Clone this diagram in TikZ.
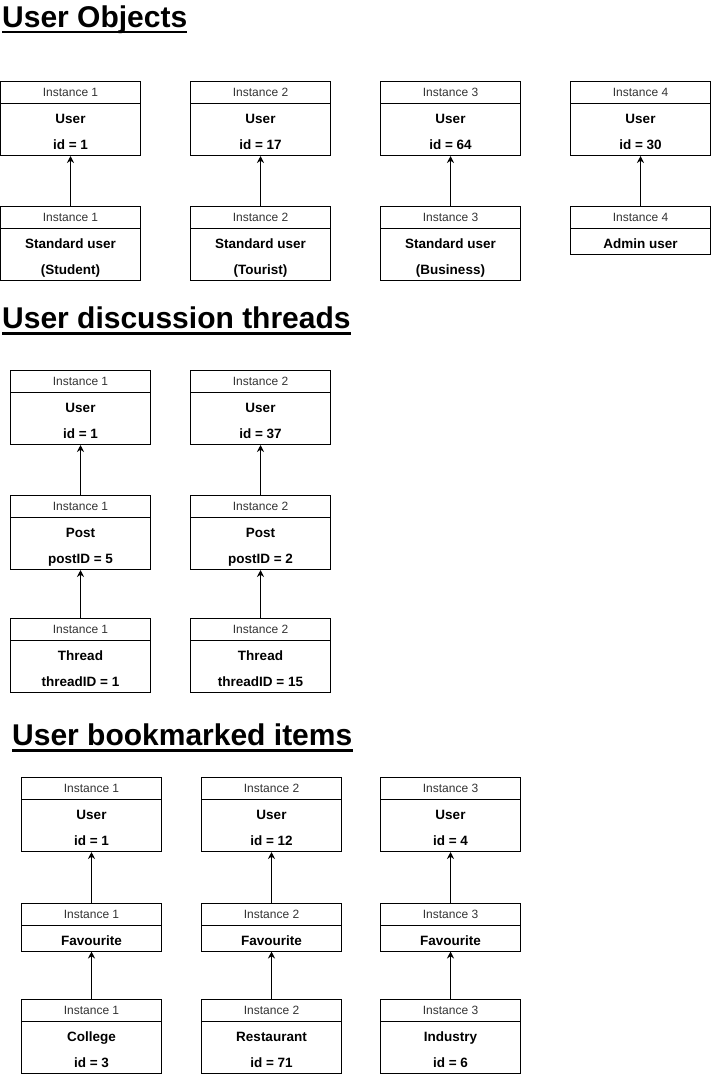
\documentclass[tikz,border=0pt]{standalone}
\usepackage{fontspec}
\setmainfont{Liberation Sans}
\usetikzlibrary{arrows.meta}
\definecolor{hdrtext}{HTML}{333333}
\tikzset{
  hdr/.style={draw=black, line width=1pt, minimum width=140pt, minimum height=22pt, inner sep=0pt,
    anchor=north west, text=hdrtext, font=\fontsize{12}{14}\selectfont},
  bodybox/.style={draw=black, line width=1pt, minimum width=140pt, inner sep=0pt,
    anchor=north west, align=center, font=\bfseries\fontsize{13.5}{26}\selectfont},
  ttl/.style={anchor=base west, inner sep=0pt, font=\bfseries\fontsize{30}{36}\selectfont},
  uline/.style={line width=2.5pt},
  arr/.style={line width=1pt, -{Stealth[length=7pt,width=7pt]}}
}
% #1 name, #2 x, #3 top, #4 body height, #5 header, #6 body text
\newcommand{\objbox}[6]{%
  \node[hdr] (#1h) at (#2,#3) {#5};
  \node[bodybox, minimum height=#4pt] (#1b) at (#2,#3+22) {#6};
}
\newcommand{\bl}[1]{\rule[-6pt]{0pt}{26pt}#1}
\begin{document}
\begin{tikzpicture}[x=1pt,y=-1pt]
\useasboundingbox (0,0) rectangle (711,1077);
% ---------- Section 1
\node[ttl] (t1) at (2,27) {User Objects};
\draw[uline] ([yshift=-5pt]t1.base west) -- ([yshift=-5pt]t1.base east);
\objbox{ua}{0}{81}{52}{Instance 1}{\bl{User}\\\bl{id = 1}}
\objbox{ub}{190}{81}{52}{Instance 2}{\bl{User}\\\bl{id = 17}}
\objbox{uc}{380}{81}{52}{Instance 3}{\bl{User}\\\bl{id = 64}}
\objbox{ud}{570}{81}{52}{Instance 4}{\bl{User}\\\bl{id = 30}}
\objbox{sa}{0}{206}{52}{Instance 1}{\bl{Standard user}\\\bl{(Student)}}
\objbox{sb}{190}{206}{52}{Instance 2}{\bl{Standard user}\\\bl{(Tourist)}}
\objbox{sc}{380}{206}{52}{Instance 3}{\bl{Standard user}\\\bl{(Business)}}
\objbox{sd}{570}{206}{26}{Instance 4}{\bl{Admin user}}
\draw[arr] (sah.north) -- (uab.south);
\draw[arr] (sbh.north) -- (ubb.south);
\draw[arr] (sch.north) -- (ucb.south);
\draw[arr] (sdh.north) -- (udb.south);
% ---------- Section 2
\node[ttl] (t2) at (2,328.5) {User discussion threads};
\draw[uline] ([yshift=-5pt]t2.base west) -- ([yshift=-5pt]t2.base east);
\objbox{du}{10}{370}{52}{Instance 1}{\bl{User}\\\bl{id = 1}}
\objbox{eu}{190}{370}{52}{Instance 2}{\bl{User}\\\bl{id = 37}}
\objbox{dp}{10}{495}{52}{Instance 1}{\bl{Post}\\\bl{postID = 5}}
\objbox{ep}{190}{495}{52}{Instance 2}{\bl{Post}\\\bl{postID = 2}}
\objbox{dt}{10}{618}{52}{Instance 1}{\bl{Thread}\\\bl{threadID = 1}}
\objbox{et}{190}{618}{52}{Instance 2}{\bl{Thread}\\\bl{threadID = 15}}
\draw[arr] (dph.north) -- (dub.south);
\draw[arr] (eph.north) -- (eub.south);
\draw[arr] (dth.north) -- (dpb.south);
\draw[arr] (eth.north) -- (epb.south);
% ---------- Section 3
\node[ttl] (t3) at (12,745.5) {User bookmarked items};
\draw[uline] ([yshift=-5pt]t3.base west) -- ([yshift=-5pt]t3.base east);
\objbox{bu}{21}{777}{52}{Instance 1}{\bl{User}\\\bl{id = 1}}
\objbox{cu}{201}{777}{52}{Instance 2}{\bl{User}\\\bl{id = 12}}
\objbox{gu}{380}{777}{52}{Instance 3}{\bl{User}\\\bl{id = 4}}
\objbox{bf}{21}{902.5}{26}{Instance 1}{\bl{Favourite}}
\objbox{cf}{201}{902.5}{26}{Instance 2}{\bl{Favourite}}
\objbox{gf}{380}{902.5}{26}{Instance 3}{\bl{Favourite}}
\objbox{bi}{21}{999}{52}{Instance 1}{\bl{College}\\\bl{id = 3}}
\objbox{ci}{201}{999}{52}{Instance 2}{\bl{Restaurant}\\\bl{id = 71}}
\objbox{gi}{380}{999}{52}{Instance 3}{\bl{Industry}\\\bl{id = 6}}
\draw[arr] (bfh.north) -- (bub.south);
\draw[arr] (cfh.north) -- (cub.south);
\draw[arr] (gfh.north) -- (gub.south);
\draw[arr] (bih.north) -- (bfb.south);
\draw[arr] (cih.north) -- (cfb.south);
\draw[arr] (gih.north) -- (gfb.south);
\end{tikzpicture}
\end{document}
